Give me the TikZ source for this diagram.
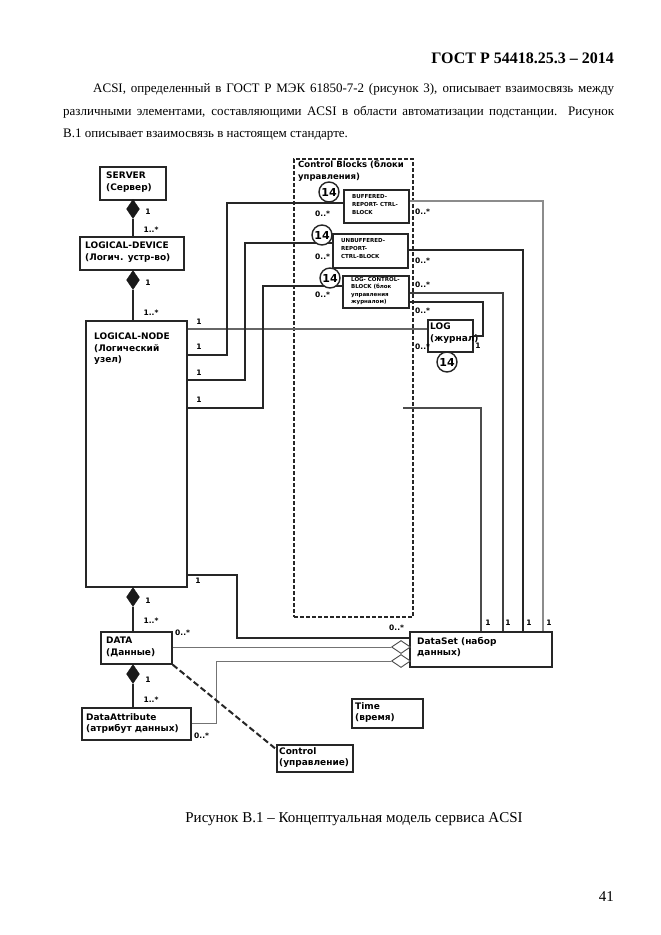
\documentclass[tikz,border=0pt]{standalone}
\usepackage{fontspec}
\setmainfont{Liberation Serif}
\newfontfamily\dvs{DejaVu Sans}
\usetikzlibrary{fit,shapes.geometric}
\tikzset{
  ubox/.style={draw=black!85, line width=1.5pt, inner sep=0pt, fill=white},
  btxt/.style={font=\dvs\bfseries\fontsize{9}{11.5}\selectfont, align=left, inner sep=0pt, anchor=north west},
  cbtxt/.style={font=\dvs\bfseries\fontsize{5.5}{8}\selectfont, align=left, inner sep=0pt, anchor=north west},
  lbl/.style={font=\dvs\bfseries\fontsize{7.5}{8}\selectfont, inner sep=0pt},
  conn/.style={line width=1.3pt, draw=black!85},
  gconn/.style={line width=1.3pt, draw=black!45},
  thin/.style={line width=0.9pt, draw=black!55},
  num/.style={circle, draw=black!85, line width=1.4pt, minimum size=20pt, inner sep=0pt, fill=white, font=\dvs\bfseries\fontsize{11}{11}\selectfont},
  comp/.style={diamond, fill=black!90, draw=black!90, minimum width=13pt, minimum height=19pt, inner sep=0pt},
  agg/.style={diamond, fill=white, draw=black!70, line width=0.9pt, minimum width=19pt, minimum height=13pt, inner sep=0pt},
  body/.style={font=\fontsize{13}{15}\selectfont, inner sep=0pt, anchor=base west}
}
\begin{document}
\begin{tikzpicture}[x=1pt,y=-1pt]
\useasboundingbox[fill=white] (0,0) rectangle (661,935);
% header and text
\node[font=\bfseries\fontsize{16}{18}\selectfont, inner sep=0pt, anchor=base east] (hdr) at (614,63) {ГОСТ Р 54418.25.3 – 2014};
\node[body] (l1) at (93,92) {\makebox[521pt][s]{ACSI, определенный в ГОСТ Р МЭК 61850-7-2 (рисунок 3), описывает взаимосвязь между}};
\node[body] (l2) at (63,115) {\makebox[551pt][s]{различными элементами, составляющими ACSI в области автоматизации подстанции. Рисунок}};
\node[body] (l3) at (63,137) {В.1 описывает взаимосвязь в настоящем стандарте.};
\node[font=\fontsize{15}{17}\selectfont, inner sep=0pt, anchor=base] (cap) at (354,822) {Рисунок В.1 – Концептуальная модель сервиса ACSI};
\node[font=\fontsize{15}{17}\selectfont, inner sep=0pt, anchor=base east] (pg) at (614,901) {41};

% dashed frame
\node[draw=black!85, line width=1.4pt, dashed, dash pattern=on 4pt off 2pt, inner sep=0pt, fit={(294,159) (413,617)}] (cbf) {};
\node[btxt, font=\dvs\bfseries\fontsize{8.5}{11.5}\selectfont] (cbft) at (298,161) {Control Blocks (блоки\\управления)};

% row coordinates
\coordinate (r329) at (0,329);
\coordinate (r355) at (0,355);
\coordinate (r380) at (0,380);
\coordinate (r408) at (0,408);
\coordinate (r575) at (0,575);
\coordinate (r638) at (0,638);
\coordinate (r647) at (0,647);
\coordinate (r661) at (0,661);
\coordinate (r723) at (0,723);
\coordinate (r201) at (0,201);
\coordinate (r250) at (0,250);
\coordinate (r293) at (0,293);
\coordinate (r302) at (0,302);
\coordinate (r336) at (0,336);

% boxes
\node[ubox, fit={(100,167) (166,200)}] (srv) {};
\node[btxt] (srvt) at (106,172) {SERVER\\(Сервер)};
\node[ubox, fit={(80,237) (184,270)}] (ld) {};
\node[btxt] (ldt) at (85,242) {LOGICAL-DEVICE\\(Логич. устр-во)};
\node[ubox, fit={(86,321) (187,587)}] (ln) {};
\node[btxt] (lnt) at (94,333) {LOGICAL-NODE\\(Логический\\узел)};
\node[ubox, fit={(101,632) (172,664)}] (data) {};
\node[btxt] (datat) at (106,637) {DATA\\(Данные)};
\node[ubox, fit={(82,708) (191,740)}] (da) {};
\node[btxt] (dat) at (86,713) {DataAttribute\\(атрибут данных)};
\node[ubox, fit={(410,632) (552,667)}] (ds) {};
\node[btxt] (dst) at (417,637) {DataSet (набор\\данных)};
\node[ubox, line width=1.2pt, fit={(352,699) (423,728)}] (time) {};
\node[btxt] (timet) at (355,702) {Time\\(время)};
\node[ubox, line width=1.2pt, fit={(277,745) (353,772)}] (ctrl) {};
\node[btxt] (ctrlt) at (279,747) {Control\\(управление)};

\node[ubox, fit={(344,190) (409,223)}] (buf) {};
\node[cbtxt] (buft) at (352,194) {BUFFERED-\\REPORT- CTRL-\\BLOCK};
\node[ubox, fit={(333,234) (408,268)}] (unb) {};
\node[cbtxt] (unbt) at (341,238) {UNBUFFERED-\\REPORT-\\CTRL-BLOCK};
\node[ubox, fit={(343,276) (409,308)}] (lcb) {};
\node[cbtxt, font=\dvs\bfseries\fontsize{5.5}{7.5}\selectfont] (lcbt) at (351,277) {LOG- CONTROL-\\BLOCK (блок\\управления\\журналом)};
\node[ubox, line width=1.3pt, fit={(428,320) (473,352)}] (log) {};
\node[btxt] (logt) at (430,323) {LOG\\(журнал)};

% composition
\node[comp] (d1) at (133,209) {};
\node[comp] (d2) at (133,280) {};
\node[comp] (d3) at (133,597) {};
\node[comp] (d4) at (133,674) {};
\draw[conn] (d1.south) -- (d1 |- ld.north);
\draw[conn] (d2.south) -- (d2 |- ln.north);
\draw[conn] (d3.south) -- (d3 |- data.north);
\draw[conn] (d4.south) -- (d4 |- da.north);
\node[lbl] (m1) at (148,212) {1};
\node[lbl] (m2) at (151,230) {1..*};
\node[lbl] (m3) at (148,283) {1};
\node[lbl] (m4) at (151,313) {1..*};
\node[lbl] (m5) at (148,601) {1};
\node[lbl] (m6) at (151,621) {1..*};
\node[lbl] (m7) at (148,680) {1};
\node[lbl] (m8) at (151,700) {1..*};

% LN connectors
\draw[line width=2.6pt, draw=black!60] (ln.east |- r329) -- (log.west |- r329);
\coordinate (b2) at (227,203);
\coordinate (b3) at (245,243);
\coordinate (b4) at (263,286);
\draw[conn] (ln.east |- r355) -| (b2) -- (buf.west |- b2);
\draw[conn] (ln.east |- r380) -| (b3) -- (unb.west |- b3);
\draw[conn] (ln.east |- r408) -| (b4) -- (lcb.west |- b4);
\coordinate (s5) at (403,408);
\coordinate (v5) at (481,0);
\draw[conn, draw=black!70] (s5) -| (v5 |- ds.north);
\coordinate (b5) at (237,0);
\draw[conn] (ln.east |- r575) -| (b5 |- r638) -- (ds.west |- r638);
\node[lbl] (n1) at (199,322) {1};
\node[lbl] (n2) at (199,347) {1};
\node[lbl] (n3) at (199,373) {1};
\node[lbl] (n4) at (199,400) {1};
\node[lbl] (n5) at (198,581) {1};

% right connectors
\coordinate (v1) at (543,0);
\coordinate (v2) at (523,0);
\coordinate (v3) at (503,0);
\coordinate (v4) at (483,0);
\draw[gconn] (buf.east |- r201) -| (v1 |- ds.north);
\draw[conn] (unb.east |- r250) -| (v2 |- ds.north);
\draw[conn, draw=black!75] (lcb.east |- r293) -| (v3 |- ds.north);
\draw[conn] (lcb.east |- r302) -| (v4 |- r336) -- (log.east |- r336);
\node[lbl] (k1) at (488,623) {1};
\node[lbl] (k2) at (508,623) {1};
\node[lbl] (k3) at (529,623) {1};
\node[lbl] (k4) at (549,623) {1};
\node[lbl] (k5) at (478,346) {1};

% aggregation
\node[agg] (h1) at (401,647) {};
\node[agg] (h2) at (401,661) {};
\draw[thin] (data.east |- r647) -- (h1.west);
\coordinate (b6) at (216,0);
\draw[thin] (da.east |- r723) -| (b6 |- r661) -- (h2.west);
\draw[line width=2pt, dashed, dash pattern=on 6pt off 3pt, black!85] (data.south east) -- ([yshift=-5pt]ctrl.north west);

% multiplicities
\node[lbl, anchor=west] (o1) at (315,214) {0..*};
\node[lbl, anchor=west] (o2) at (315,257) {0..*};
\node[lbl, anchor=west] (o3) at (315,295) {0..*};
\node[lbl, anchor=west] (o4) at (415,212) {0..*};
\node[lbl, anchor=west] (o5) at (415,261) {0..*};
\node[lbl, anchor=west] (o6) at (415,285) {0..*};
\node[lbl, anchor=west] (o7) at (415,311) {0..*};
\node[lbl, anchor=west] (o8) at (415,347) {0..*};
\node[lbl, anchor=west] (o9) at (175,633) {0..*};
\node[lbl, anchor=west] (o10) at (389,628) {0..*};
\node[lbl, anchor=west] (o11) at (194,736) {0..*};

% numbered circles
\node[num] (c1) at (329,192) {14};
\node[num] (c2) at (322,235) {14};
\node[num] (c3) at (330,278) {14};
\node[num] (c4) at (447,362) {14};
\end{tikzpicture}
\end{document}
